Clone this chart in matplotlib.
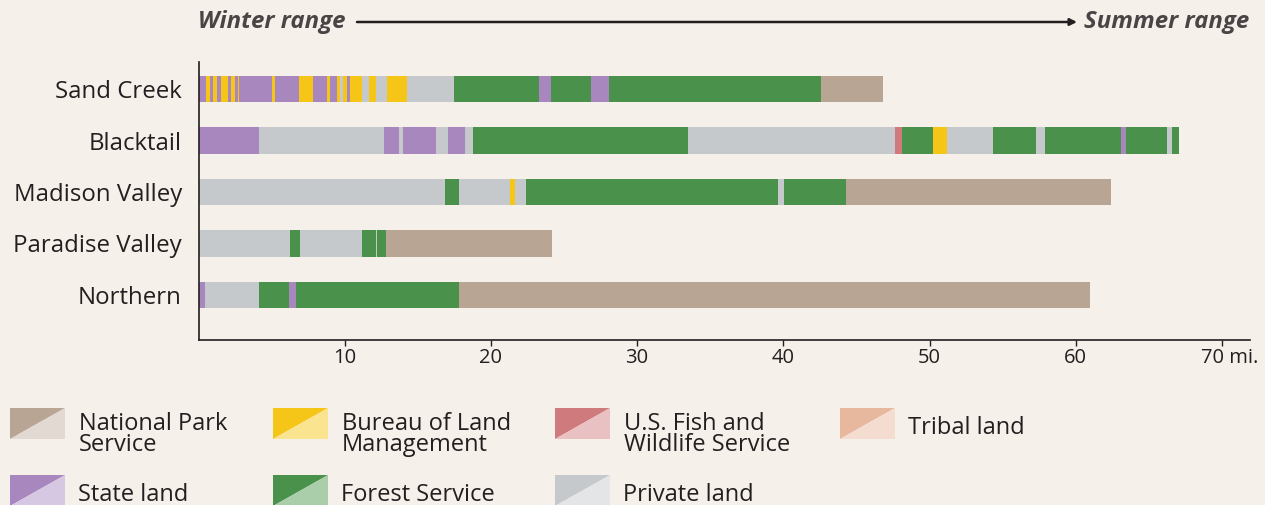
import matplotlib
matplotlib.use("Agg")
import matplotlib.pyplot as plt
from matplotlib.patches import Polygon
from matplotlib.transforms import offset_copy

plt.rcParams['font.family'] = ['Open Sans', 'DejaVu Sans']

# ------------------------------------------------------------
# data: miles from winter range, owner code for each stretch
# N = National Park Service, B = Bureau of Land Management,
# W = U.S. Fish and Wildlife Service, T = Tribal land,
# S = State land, F = Forest Service, P = Private land
# ------------------------------------------------------------
routes = ["Sand Creek", "Blacktail", "Madison Valley", "Paradise Valley", "Northern"]

sand_creek_edges = [0, 0.51, 0.79, 1.01, 1.29, 1.54, 2.04, 2.20, 2.50, 2.72, 2.77,
                    5.05, 5.23, 6.89, 7.85, 8.79, 9.00, 9.45, 9.68, 9.90, 10.14,
                    10.36, 11.16, 11.66, 12.14, 12.91, 14.26, 17.50, 23.27, 24.11,
                    26.87, 28.06, 42.58, 46.84]
sand_creek_owner = ["S", "B", "S", "B", "S", "B", "S", "B", "S", "B",
                    "S", "B", "S", "B", "S", "B", "S", "B", "P", "B",
                    "S", "B", "P", "B", "P", "B", "P", "F", "S", "F",
                    "S", "F", "N"]

blacktail_edges = [0, 4.14, 12.67, 13.69, 13.99, 16.24, 17.07, 18.25, 18.75, 33.46,
                   47.64, 48.12, 50.24, 51.20, 54.36, 57.26, 57.88, 63.08, 63.42,
                   66.24, 66.57, 67.04]
blacktail_owner = ["S", "P", "S", "P", "S", "P", "S", "P", "F", "P",
                   "W", "F", "B", "P", "F", "P", "F", "S", "F", "P", "F"]

madison_edges = [0, 16.84, 17.82, 21.31, 21.65, 22.40, 39.62, 40.03, 44.29, 62.41]
madison_owner = ["P", "F", "P", "B", "P", "F", "P", "F", "N"]

paradise_edges = [0, 6.24, 6.94, 11.18, 12.14, 12.23, 12.85, 24.16]
paradise_owner = ["P", "F", "P", "F", "P", "F", "N"]

northern_edges = [0, 0.44, 4.14, 6.21, 6.67, 17.82, 61.0]
northern_owner = ["S", "P", "F", "S", "F", "N"]

route_edges = [sand_creek_edges, blacktail_edges, madison_edges, paradise_edges, northern_edges]
route_owner = [sand_creek_owner, blacktail_owner, madison_owner, paradise_owner, northern_owner]

mile_ticks = [10, 20, 30, 40, 50, 60, 70]

legend_codes = ["N", "B", "W", "T", "S", "F", "P"]
legend_labels = ["National Park\nService", "Bureau of Land\nManagement",
                 "U.S. Fish and\nWildlife Service", "Tribal land",
                 "State land", "Forest Service", "Private land"]

dark = {"N": "#b8a594", "B": "#f5c518", "W": "#cf7a7c", "T": "#e8b89e",
        "S": "#a886be", "F": "#4a914b", "P": "#c5c9cb"}
light = {"N": "#e1d9d2", "B": "#fae490", "W": "#e9c1c3", "T": "#f5dcd1",
         "S": "#d6c8e2", "F": "#aacdaa", "P": "#e3e5e6"}

bg = "#f5f0ea"
ink = "#231f20"

W, H = 1265, 505
fig = plt.figure(figsize=(W / 100, H / 100), dpi=100, facecolor=bg)

# main axes (pixel layout)
x0_px, x1_px = 198.5, 1250
top_px, bot_px = 62, 340
px_per_mile = 14.62
ax = fig.add_axes([x0_px / W, 1 - bot_px / H, (x1_px - x0_px) / W, (bot_px - top_px) / H])
ax.set_facecolor(bg)

for i, (edges, owners) in enumerate(zip(route_edges, route_owner)):
    lefts = edges[:-1]
    widths = [b - a for a, b in zip(edges[:-1], edges[1:])]
    ax.barh([i] * len(widths), widths, left=lefts, height=0.52,
            color=[dark[o] for o in owners], linewidth=0)

ax.set_xlim(0, (x1_px - x0_px) / px_per_mile)
ax.set_ylim(4 + 45 / 51.5, -27 / 51.5)

ax.set_yticks(range(len(routes)))
ax.set_yticklabels(routes, fontsize=17.3, color=ink)
ax.tick_params(axis='y', length=0, pad=12)

tick_len, tick_pad = 4.5, 1.5
ax.set_xticks(mile_ticks)
ax.set_xticklabels([str(t) for t in mile_ticks[:-1]] + [""], fontsize=14.5, color=ink)
ax.tick_params(axis='x', direction='out', length=tick_len, width=1, color=ink, pad=tick_pad)
# last label carries the unit, nudged right like the reference
ax.text(mile_ticks[-1], 0, f"{mile_ticks[-1]} mi.", fontsize=14.5, color=ink,
        ha='center', va='top',
        transform=offset_copy(ax.get_xaxis_transform(), fig=fig, x=5.5,
                              y=-(tick_len + tick_pad), units='points'))

for s in ["top", "right"]:
    ax.spines[s].set_visible(False)
for s in ["left", "bottom"]:
    ax.spines[s].set_color(ink)
    ax.spines[s].set_linewidth(1.2)

# overlay axes in pixel units for header and legend
ov = fig.add_axes([0, 0, 1, 1])
ov.set_xlim(0, W)
ov.set_ylim(H, 0)
ov.axis('off')
ov.patch.set_alpha(0)

head_col = "#4a4446"
ov.text(198, 22, "Winter range", fontsize=17.3, fontweight='bold', style='italic',
        color=head_col, ha='left', va='center')
ov.text(1249, 22, "Summer range", fontsize=17.3, fontweight='bold', style='italic',
        color=head_col, ha='right', va='center')
ov.annotate("", xy=(1077, 22), xytext=(357, 22),
            arrowprops=dict(arrowstyle='-|>', color=ink, lw=1.8,
                            mutation_scale=10, shrinkA=0, shrinkB=0))

# legend with split swatches
col_x = [10, 273, 555, 840]
row_y = [408, 475]
sw_w, sw_h = 55, 31
for k, (code, label) in enumerate(zip(legend_codes, legend_labels)):
    r, c = divmod(k, 4)
    x, y = col_x[c], row_y[r]
    ov.add_patch(Polygon([(x, y), (x + sw_w, y), (x, y + sw_h)], closed=True,
                         facecolor=dark[code], edgecolor='none'))
    ov.add_patch(Polygon([(x + sw_w, y), (x + sw_w, y + sw_h), (x, y + sw_h)], closed=True,
                         facecolor=light[code], edgecolor='none'))
    if "\n" in label:
        ov.text(x + 69, y + 4, label, fontsize=17, color=ink, ha='left', va='top',
                linespacing=0.85)
    else:
        ov.text(x + 68, y + 20, label, fontsize=17, color=ink, ha='left', va='center')

fig.savefig("out.png", dpi=100, facecolor=bg)
